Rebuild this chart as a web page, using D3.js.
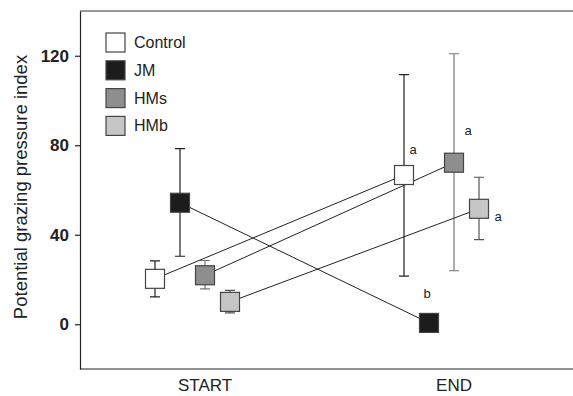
<!DOCTYPE html>
<html>
<head>
<meta charset="utf-8">
<script src="https://cdn.jsdelivr.net/npm/d3@7"></script>
<style>
  body { margin: 0; background: #fff; }
  svg { display: block; font-family: 'Liberation Sans', Arial, sans-serif; }
</style>
</head>
<body>
<div id="graf"></div>
<script>
// I. Datos
categorias = ['START', 'END']
series = ['Control', 'JM', 'HMs', 'HMb']
medias = {
  Control: [20.3, 66.7],
  JM:      [54.3, 0.6],
  HMs:     [21.9, 72.2],
  HMb:     [10.0, 51.6]
}
superior = {
  Control: [28.3, 111.6],
  JM:      [78.5, null],
  HMs:     [28.5, 120.9],
  HMb:     [15.1, 65.7]
}
inferior = {
  Control: [12.2, 21.5],
  JM:      [30.4, null],
  HMs:     [15.8, 23.9],
  HMb:     [5.1, 37.8]
}
letras = ['a', 'b', 'a', 'a']   // letra en END por serie
yTicks = [0, 40, 80, 120]

// II. Configuración
ancho_total = 573
alto_total = 396
margins = { top: 11, left: 80, right: 0, bottom: 27 }
ancho = ancho_total - margins.left - margins.right
alto = alto_total - margins.top - margins.bottom

relleno = { Control: '#ffffff', JM: '#1c1c1c', HMs: '#8e8e8e', HMb: '#c6c6c6' }
colorBarra = { Control: '#222', JM: '#222', HMs: '#777', HMb: '#555' }
// desplazamiento de la letra respecto al marcador
letraOff = { Control: [9, -21], JM: [-2, -25], HMs: [14, -28], HMb: [19, 12] }

svg = d3.select('#graf').append('svg')
  .attr('width', ancho_total)
  .attr('height', alto_total)

g = svg.append('g')
  .attr('transform', `translate(${margins.left}, ${margins.top})`)

// III. Escaladores
y = d3.scaleLinear().domain([-20, 140]).range([alto, 0])
x = d3.scalePoint().domain(categorias).range([125, 374])
dx = d3.scalePoint().domain(series).range([-50, 25])

puntos = []
series.forEach(s => {
  categorias.forEach((c, i) => {
    puntos.push({ serie: s, cat: c, v: medias[s][i], hi: superior[s][i], lo: inferior[s][i] })
  })
})
px = d => x(d.cat) + dx(d.serie)

// IV. Ejes y marco
g.append('line')
  .attr('x1', 0).attr('x2', ancho).attr('y1', 0).attr('y2', 0)
  .attr('stroke', '#333').attr('stroke-width', 1.2)
g.append('line')
  .attr('x1', 0).attr('x2', ancho).attr('y1', alto).attr('y2', alto)
  .attr('stroke', '#222').attr('stroke-width', 1.2)

yAxisGroup = g.append('g')
  .call(d3.axisLeft(y).tickValues(yTicks).tickSize(5).tickSizeOuter(0).tickPadding(6))
yAxisGroup.select('.domain').attr('stroke', '#222').attr('stroke-width', 1.2)
yAxisGroup.selectAll('.tick line').attr('stroke', '#222').attr('stroke-width', 1.2)
yAxisGroup.selectAll('.tick text')
  .attr('font-size', '17px')
  .attr('font-weight', 'bold')
  .attr('fill', '#222')
  .attr('font-family', "'Liberation Sans', Arial, sans-serif")

g.selectAll('.cat-label')
  .data(categorias)
  .enter().append('text')
  .attr('class', 'cat-label')
  .attr('x', d => x(d))
  .attr('y', alto + 22)
  .attr('text-anchor', 'middle')
  .attr('font-size', '17px')
  .attr('fill', '#222')
  .text(d => d)

svg.append('text')
  .attr('transform', `translate(27, ${187}) rotate(-90)`)
  .attr('text-anchor', 'middle')
  .attr('font-size', '18.5px')
  .attr('fill', '#222')
  .text('Potential grazing pressure index')

// V. Barras de error
barras = puntos.filter(d => d.hi != null)
g.selectAll('.err')
  .data(barras)
  .enter().append('path')
  .attr('class', 'err')
  .attr('fill', 'none')
  .attr('stroke', d => colorBarra[d.serie])
  .attr('stroke-width', 1.2)
  .attr('d', d => {
    const cx = px(d), t = y(d.hi), b = y(d.lo)
    return `M${cx},${t}V${b}M${cx - 5},${t}H${cx + 5}M${cx - 5},${b}H${cx + 5}`
  })

// VI. Líneas START -> END
g.selectAll('.conn')
  .data(series)
  .enter().append('line')
  .attr('class', 'conn')
  .attr('x1', s => x('START') + dx(s))
  .attr('y1', s => y(medias[s][0]))
  .attr('x2', s => x('END') + dx(s))
  .attr('y2', s => y(medias[s][1]))
  .attr('stroke', '#222')
  .attr('stroke-width', 1)

// VII. Marcadores
lado = 19
g.selectAll('.mark')
  .data(puntos)
  .enter().append('rect')
  .attr('class', 'mark')
  .attr('x', d => px(d) - lado / 2)
  .attr('y', d => y(d.v) - lado / 2)
  .attr('width', lado)
  .attr('height', lado)
  .attr('fill', d => relleno[d.serie])
  .attr('stroke', '#444')
  .attr('stroke-width', 1.2)

// VIII. Letras
g.selectAll('.letra')
  .data(series)
  .enter().append('text')
  .attr('class', 'letra')
  .attr('x', s => x('END') + dx(s) + letraOff[s][0])
  .attr('y', s => y(medias[s][1]) + letraOff[s][1])
  .attr('text-anchor', 'middle')
  .attr('font-size', '13px')
  .attr('fill', '#222')
  .text((s, i) => letras[i])

// IX. Leyenda
leyenda = g.append('g')
  .attr('transform', 'translate(26, 22)')
items = leyenda.selectAll('g')
  .data(series)
  .enter().append('g')
  .attr('transform', (s, i) => `translate(0, ${i * 27.8})`)
items.append('rect')
  .attr('width', lado).attr('height', lado)
  .attr('fill', s => relleno[s])
  .attr('stroke', '#444')
  .attr('stroke-width', 1.2)
items.append('text')
  .attr('x', 28)
  .attr('y', 15)
  .attr('font-size', '16px')
  .attr('fill', '#222')
  .text(s => s)
</script>
</body>
</html>
